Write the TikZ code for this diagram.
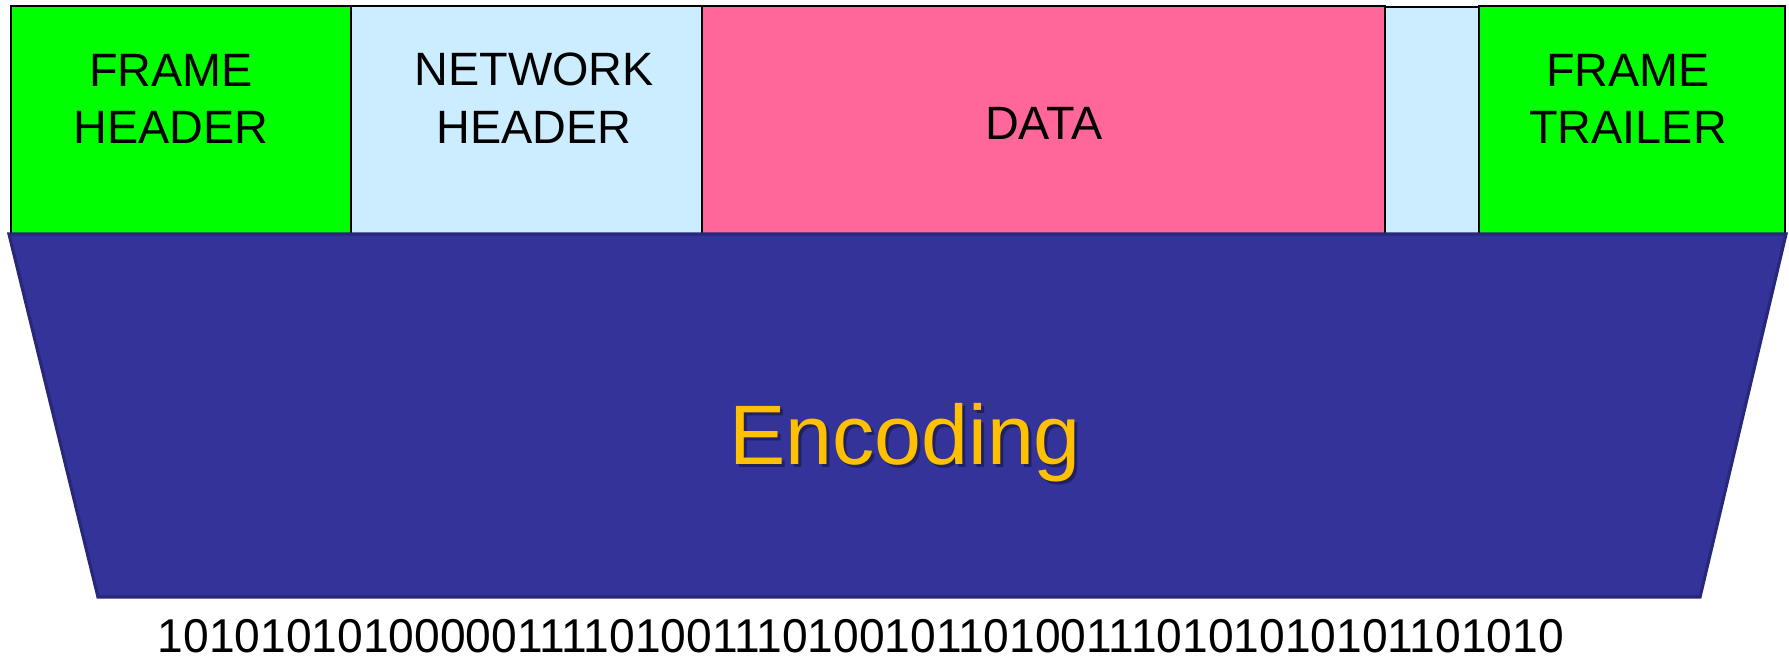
\documentclass[tikz,border=0pt]{standalone}
\usepackage{fontspec}
\setmainfont{Liberation Sans}
\definecolor{framegreen}{HTML}{00FF00}
\definecolor{netblue}{HTML}{CCECFF}
\definecolor{datapink}{HTML}{FF6699}
\definecolor{encblue}{HTML}{333399}
\definecolor{encedge}{HTML}{28287A}
\definecolor{encgold}{HTML}{FFC000}
\definecolor{encshadow}{HTML}{1C1C55}

\tikzset{
  field/.style={draw=black, line width=0.6pt, inner sep=0pt, minimum height=2.28cm},
  fieldtext/.style={inner sep=0pt, align=center, text=black,
    font=\fontsize{13.3pt}{16.4pt}\selectfont},
  encstage/.style={fill=encblue, draw=encedge, line width=0.9pt, line join=miter},
  enctext/.style={inner sep=0pt, anchor=base, font=\fontsize{24pt}{28pt}\selectfont},
  bitstext/.style={inner sep=0pt, anchor=base, text=black, font=\fontsize{13.5pt}{16pt}\selectfont}
}

\begin{document}
\begin{tikzpicture}[x=0.01cm, y=-0.01cm]
  \useasboundingbox (0,0) rectangle (1789,657);

  % frame fields
  \node[field, fill=framegreen, minimum width=3.40cm] (fh)   at (181,120)   {};
  \node[field, fill=netblue,    minimum width=3.51cm] (nh)   at (526.5,120) {};
  \node[field, fill=datapink,   minimum width=6.83cm] (data) at (1043.5,120) {};
  \node[field, fill=netblue,    minimum width=0.94cm, minimum height=2.27cm] (nt) at (1432,120.5) {};
  \node[field, fill=framegreen, minimum width=3.06cm] (ft)   at (1632,120)  {};

  % field labels
  \node[fieldtext] (fhlabel)   at (171,99)    {FRAME\\HEADER};
  \node[fieldtext] (nhlabel)   at (534,98)    {NETWORK\\HEADER};
  \node[fieldtext] (datalabel) at (1044,123)  {DATA};
  \node[fieldtext] (ftlabel)   at (1628,99)   {FRAME\\TRAILER};

  % encoding stage
  \coordinate (tl) at (9,234);
  \coordinate (tr) at (1786,234);
  \coordinate (br) at (1700,597);
  \coordinate (bl) at (98,597);
  \path[encstage] (tl) -- (tr) -- (br) -- (bl) -- cycle;

  \node[enctext, text=encshadow, opacity=0.8] (encshade) at (908,467) {Encoding};
  \node[enctext, text=encgold] (enc) at (905,464) {Encoding};

  % bit stream
  \node[bitstext] (bits) at (861,652)
    {\scalebox{0.972}[1]{10101010100000111101001110100101101001110101010101101010}};
\end{tikzpicture}
\end{document}
